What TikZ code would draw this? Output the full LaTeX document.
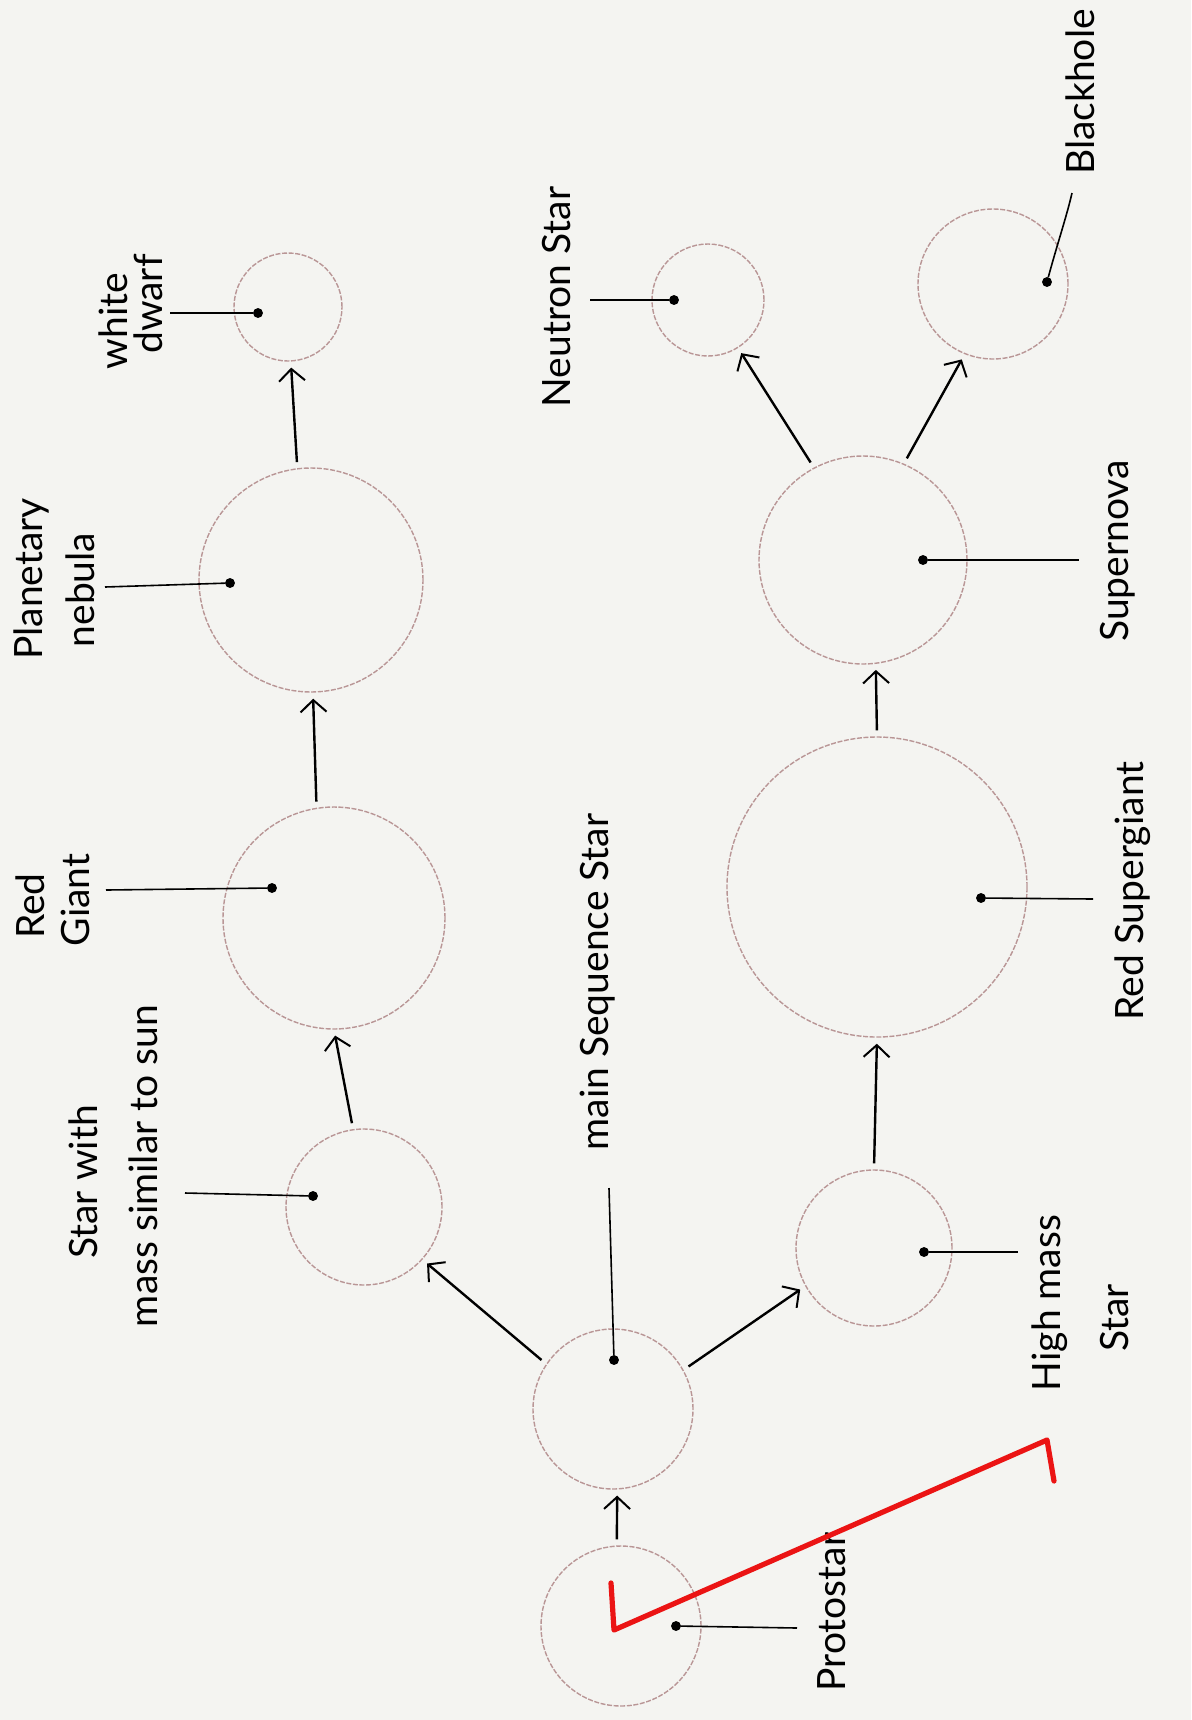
\documentclass[tikz,border=0pt]{standalone}
\usepackage{fontspec}
\setmainfont{Lato}
\usetikzlibrary{arrows.meta}
\definecolor{paper}{RGB}{244,244,241}
\definecolor{circ}{RGB}{185,150,150}
\definecolor{checkred}{RGB}{235,20,20}
\begin{document}
\begin{tikzpicture}[x=0.5pt,y=-0.5pt,
  star/.style={circle, draw=circ, line width=0.7pt, dash pattern=on 2.5pt off 0.8pt, inner sep=0pt},
  dotm/.style={circle, fill=black, draw=black, inner sep=0pt, minimum size=4.5pt},
  lbl/.style={draw=black, line width=0.8pt},
  arr/.style={draw=black, line width=1.2pt, -{Straight Barb[length=6pt,width=13pt,line width=1pt]}, shorten <=3pt, shorten >=3pt},
  txt/.style={rotate=90, font=\fontsize{19.5}{21}\selectfont, inner sep=0pt},
  check/.style={draw=checkred, line width=2.6pt, line join=round, line cap=round}]
\fill[paper] (0,0) rectangle (1191,1720);
\useasboundingbox (0,0) rectangle (1191,1720);
% stars
\node[star, minimum size=80pt] (proto) at (621,1626) {};
\node[star, minimum size=80pt] (ms) at (613,1409) {};
\node[star, minimum size=78pt] (sun) at (364,1207) {};
\node[star, minimum size=111pt] (rg) at (334,918) {};
\node[star, minimum size=112pt] (pn) at (311,580) {};
\node[star, minimum size=54pt] (wd) at (288,307) {};
\node[star, minimum size=78pt] (hms) at (874,1248) {};
\node[star, minimum size=150pt] (rsg) at (877,887) {};
\node[star, minimum size=104pt] (sn) at (863,560) {};
\node[star, minimum size=56pt] (ns) at (708,300) {};
\node[star, minimum size=75pt] (bh) at (993,284) {};
% arrows
\draw[arr] (proto.93) -- (ms.273);
\draw[arr] (ms.146) -- (sun.318);
\draw[arr] (sun.98) -- (rg.270);
\draw[arr] (rg.99) -- (pn.271);
\draw[arr] (pn.97) -- (wd.273);
\draw[arr] (ms.29) -- (hms.209);
\draw[arr] (hms.90) -- (rsg.270);
\draw[arr] (rsg.90) -- (sn.277);
\draw[arr] (sn.118) -- (ns.302);
\draw[arr] (sn.67) -- (bh.248);
% dots and label lines
\node[dotm] (protod) at (676,1626) {};
\coordinate (protol) at (797,1628);
\draw[lbl] (protod) -- (protol);
\node[dotm] (msd) at (614,1360) {};
\coordinate (msl) at (609,1188);
\draw[lbl] (msd) -- (msl);
\node[dotm] (sund) at (313,1196) {};
\coordinate (sunl) at (185,1193);
\draw[lbl] (sund) -- (sunl);
\node[dotm] (rgd) at (272,888) {};
\coordinate (rgl) at (106,890);
\draw[lbl] (rgd) -- (rgl);
\node[dotm] (pnd) at (230,583) {};
\coordinate (pnl) at (105,587);
\draw[lbl] (pnd) -- (pnl);
\node[dotm] (wdd) at (258,313) {};
\coordinate (wdl) at (170,313);
\draw[lbl] (wdd) -- (wdl);
\node[dotm] (hmsd) at (924,1252) {};
\coordinate (hmsl) at (1018,1252);
\draw[lbl] (hmsd) -- (hmsl);
\node[dotm] (rsgd) at (981,898) {};
\coordinate (rsgl) at (1093,899);
\draw[lbl] (rsgd) -- (rsgl);
\node[dotm] (snd) at (923,560) {};
\coordinate (snl) at (1079,560);
\draw[lbl] (snd) -- (snl);
\node[dotm] (nsd) at (674,300) {};
\coordinate (nsl) at (590,300);
\draw[lbl] (nsd) -- (nsl);
\node[dotm] (bhd) at (1047,282) {};
\coordinate (bhl) at (1072,193);
\draw[lbl] (bhd) .. controls (1057,245) and (1067,215) .. (bhl);
% labels
\node[txt] (t1a) at (113,321) {white};
\node[txt] (t1b) at (148,304) {dwarf};
\node[txt] (t2a) at (31,579) {Planetary};
\node[txt] (t2b) at (80,590) {nebula};
\node[txt] (t3a) at (30,906) {Red};
\node[txt] (t3b) at (75,900) {Giant};
\node[txt] (t4a) at (83,1182) {Star with};
\node[txt] (t4b) at (143,1166) {mass similar to sun};
\node[txt] (t5) at (598,982) {main Sequence Star};
\node[txt] (t6) at (832,1612) {Protostar};
\node[txt] (t7a) at (1050,1303) {High mass};
\node[txt] (t7b) at (1115,1318) {Star};
\node[txt] (t8) at (1133,891) {Red Supergiant};
\node[txt] (t9) at (1118,551) {Supernova};
\node[txt] (t10) at (557,297) {Neutron Star};
\node[txt] (t11) at (1080,92) {Blackhole};
% red check mark
\draw[check] (611,1583) -- (614,1630) -- (1047,1440) -- (1054,1481);
\end{tikzpicture}
\end{document}
